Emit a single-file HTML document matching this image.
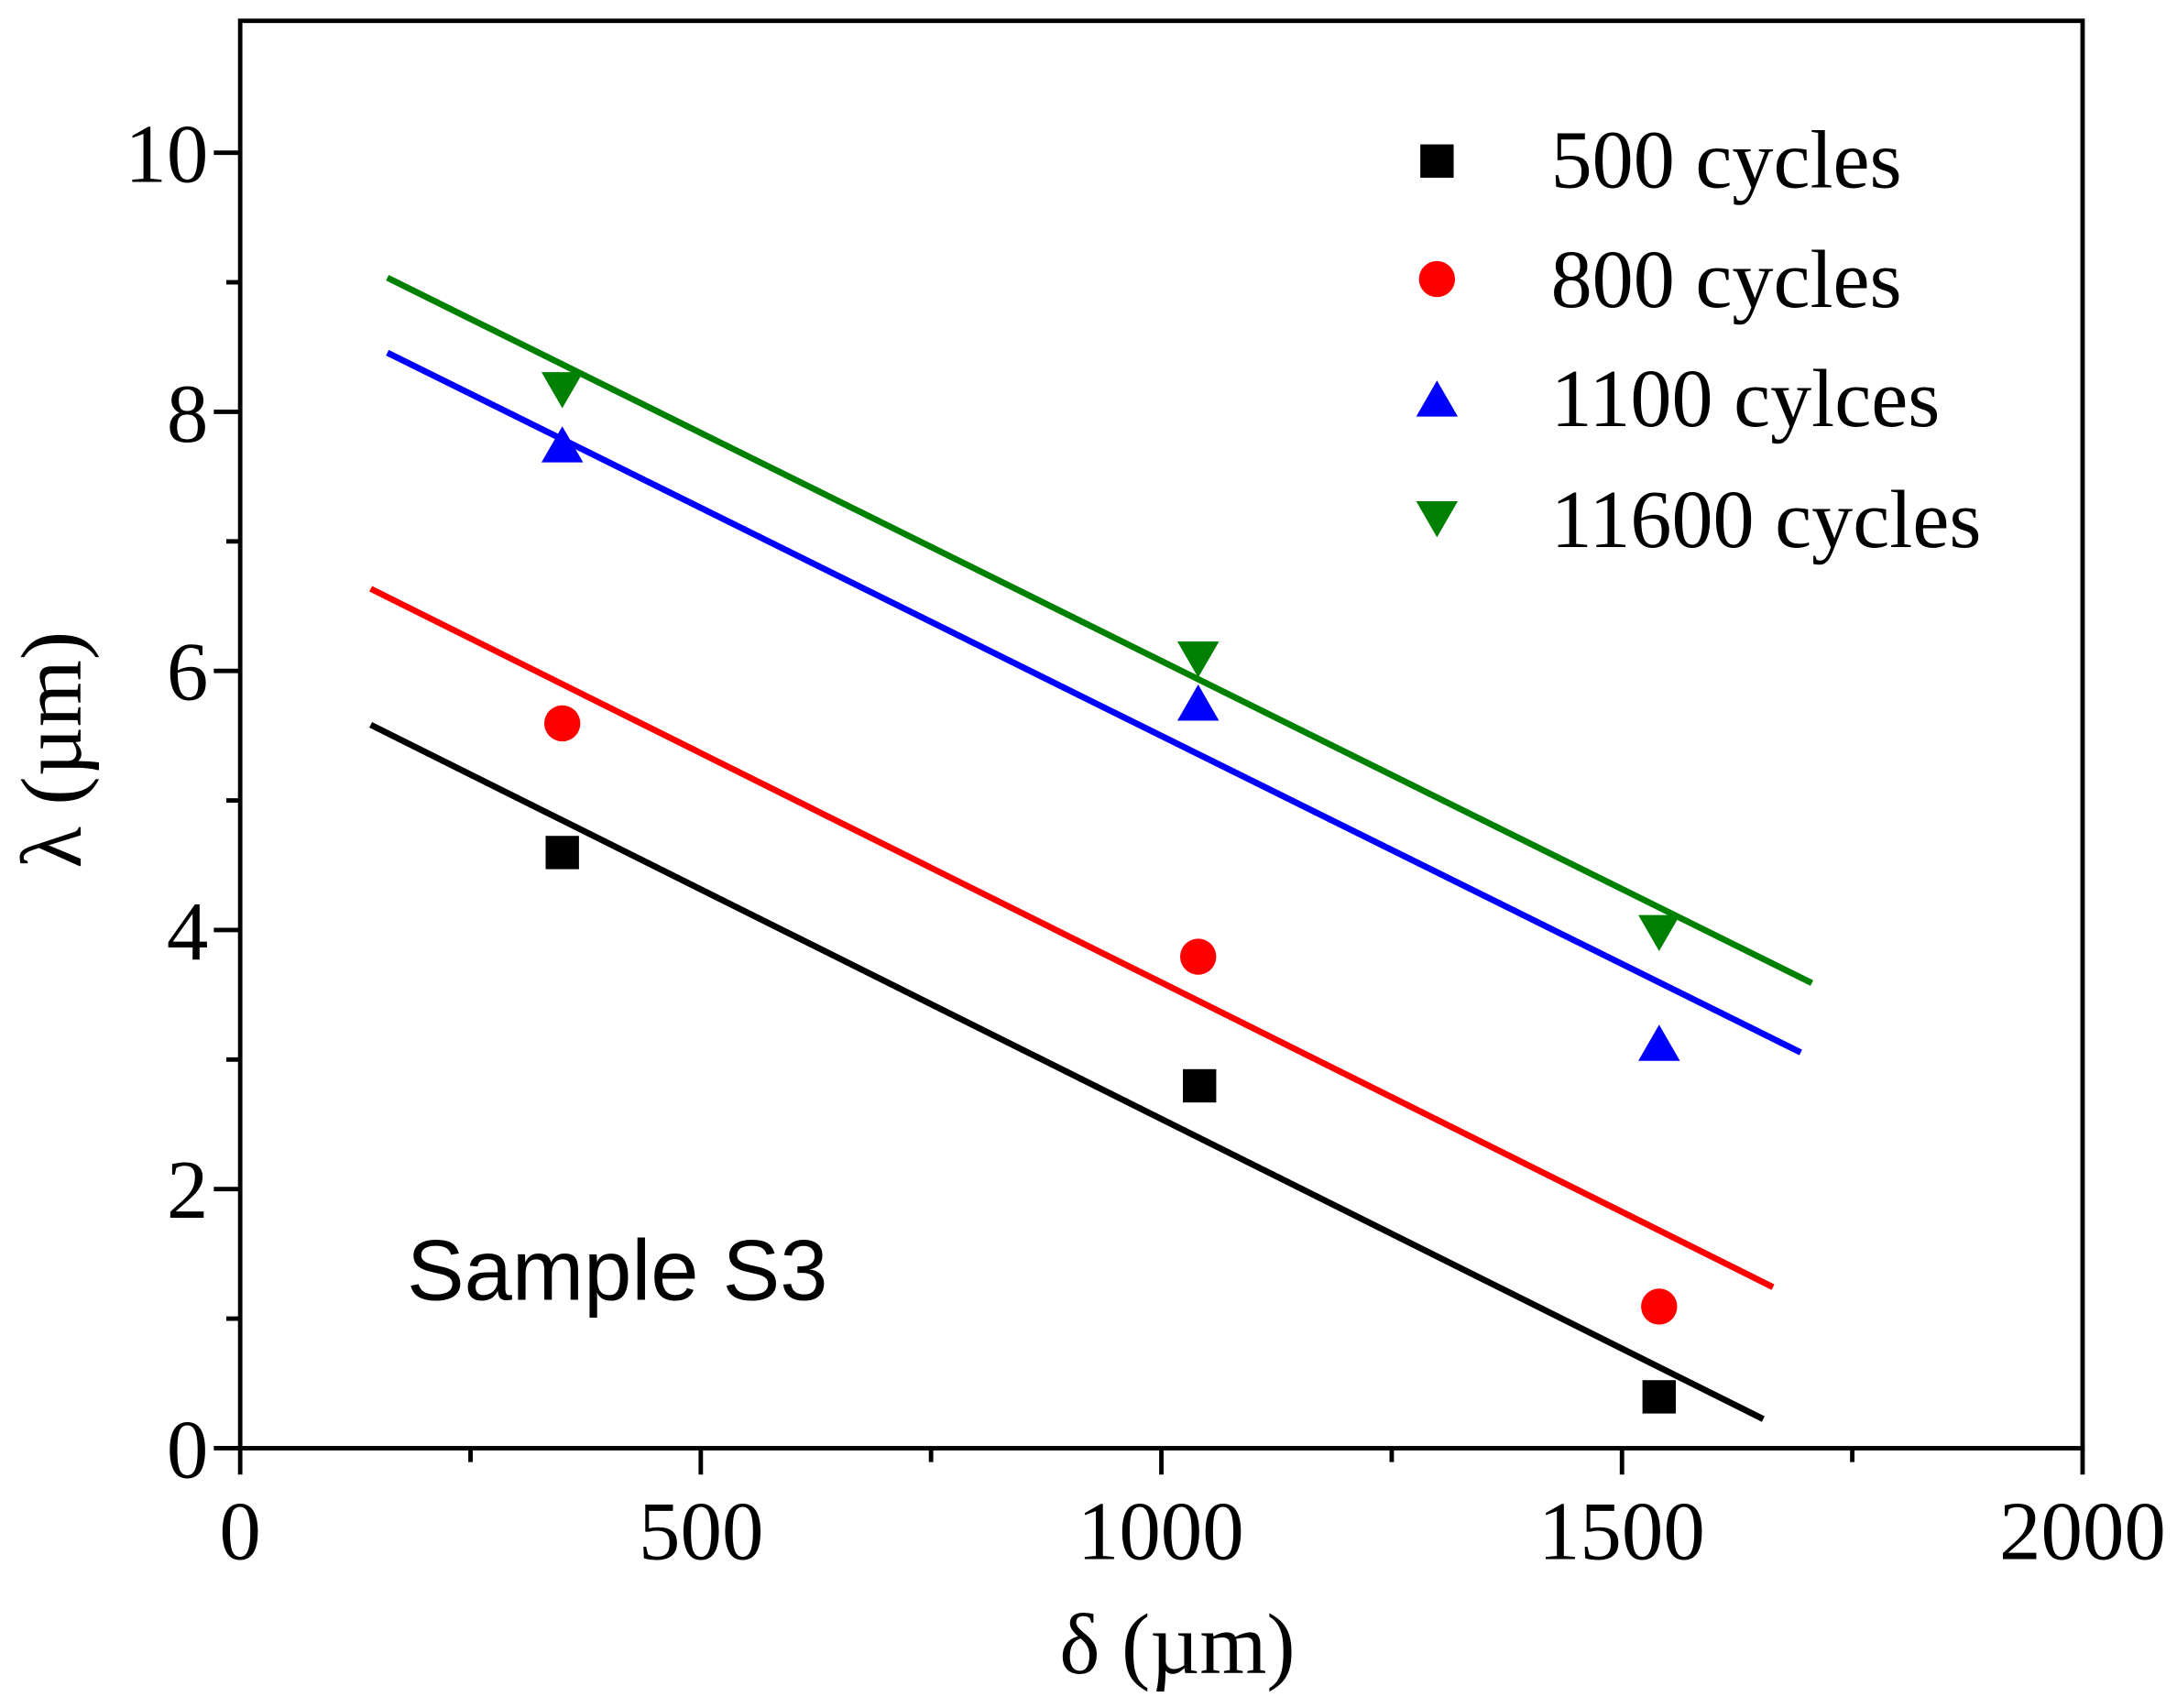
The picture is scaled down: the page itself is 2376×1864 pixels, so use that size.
<!DOCTYPE html>
<html><head><meta charset="utf-8"><style>html,body{margin:0;padding:0;background:#fff}svg{display:block}</style></head>
<body>
<svg width="2376" height="1864" viewBox="0 0 1568 1230.1" preserveAspectRatio="none" xmlns="http://www.w3.org/2000/svg">
<rect width="1568" height="1231" fill="#fff"/>
<g stroke="#000" stroke-width="3.2" fill="none">
<rect x="173" y="15" width="1327" height="1028"/>
<path d="M154 1043H173M154 856.4H173M154 669.8H173M154 483.2H173M154 296.6H173M154 110H173"/>
<path d="M163 949.7H173M163 763.1H173M163 576.5H173M163 389.9H173M163 203.3H173"/>
<path d="M173 1043V1062M504.75 1043V1062M836.5 1043V1062M1168.25 1043V1062M1500 1043V1062"/>
<path d="M338.9 1043V1053M670.6 1043V1053M1002.4 1043V1053M1334.1 1043V1053"/>
</g>
<g font-family="Liberation Serif, serif" font-size="60" fill="#000">
<g text-anchor="end">
<text x="150" y="1064">0</text><text x="150" y="877">2</text><text x="150" y="691">4</text>
<text x="150" y="504">6</text><text x="150" y="318">8</text><text x="150" y="131">10</text>
</g>
<g text-anchor="middle">
<text x="173" y="1123">0</text><text x="505" y="1123">500</text><text x="836" y="1123">1000</text>
<text x="1168" y="1123">1500</text><text x="1500" y="1123">2000</text>
<text x="848" y="1205" font-size="62">δ (µm)</text>
<text transform="translate(58,540) rotate(-90)" font-size="62">λ (µm)</text>
</g>
<g font-size="59.5">
<text x="1117" y="135">500 cycles</text><text x="1117" y="221">800 cycles</text>
<text x="1117" y="307">1100 cylces</text><text x="1117" y="394">11600 cycles</text>
</g>
</g>
<text x="293" y="936" font-family="Liberation Sans, sans-serif" font-size="62">Sample S3</text>
<g stroke-width="4.5">
<line x1="267" y1="522" x2="1270" y2="1022" stroke="#000"/>
<line x1="267" y1="424" x2="1277" y2="927" stroke="#f00"/>
<line x1="279" y1="254" x2="1297" y2="758" stroke="#00f"/>
<line x1="279" y1="200" x2="1305" y2="708" stroke="#008000"/>
</g>
<g fill="#000">
<rect x="393" y="602" width="24" height="24"/><rect x="852" y="770" width="24" height="24"/><rect x="1183" y="994" width="24" height="24"/>
<rect x="1023" y="104" width="24" height="24"/>
</g>
<g fill="#f00">
<circle cx="405" cy="521" r="13"/><circle cx="863" cy="689" r="13"/><circle cx="1195" cy="941" r="13"/><circle cx="1035" cy="201" r="13"/>
</g>
<g fill="#00f">
<path d="M405 307l15 26h-30z"/><path d="M863 493l15 26h-30z"/><path d="M1195 738l15 26h-30z"/><path d="M1035 274l15 26h-30z"/>
</g>
<g fill="#008000">
<path d="M405 294l15 -26h-30z"/><path d="M863 488l15 -26h-30z"/><path d="M1195 685l15 -26h-30z"/><path d="M1035 387l15 -26h-30z"/>
</g>
</svg>
</body></html>
